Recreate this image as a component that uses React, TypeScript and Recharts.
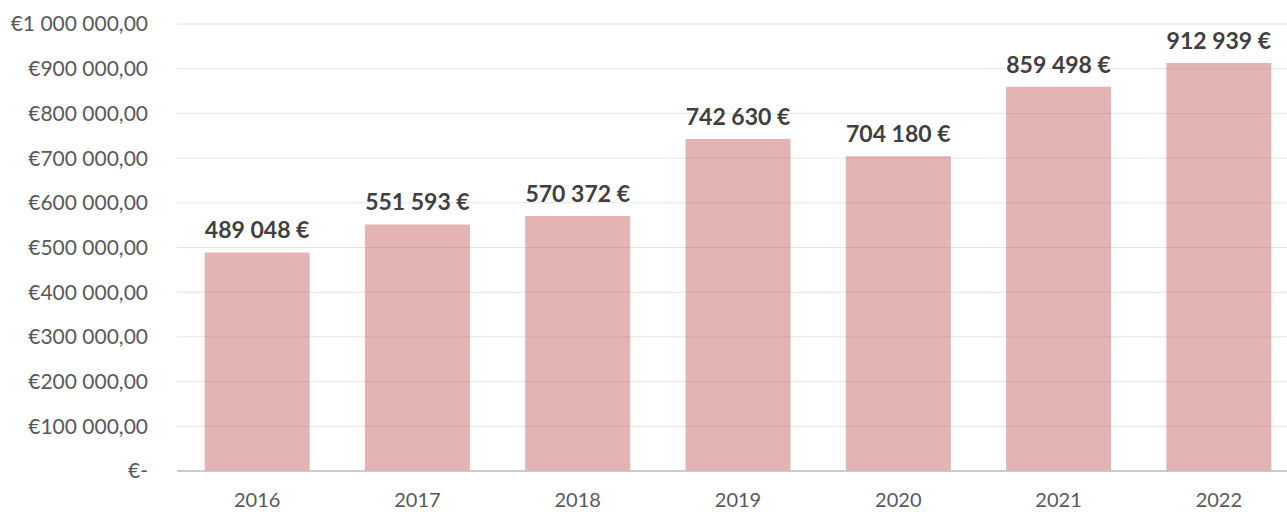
import { BarChart, Bar, XAxis, YAxis, CartesianGrid, LabelList } from 'recharts'

const YEARS = ['2016', '2017', '2018', '2019', '2020', '2021', '2022']
const REVENUE = [489048, 551593, 570372, 742630, 704180, 859498, 912939]
const Y_TICKS = [0, 100000, 200000, 300000, 400000, 500000, 600000, 700000, 800000, 900000, 1000000]

const data = YEARS.map((year, i) => ({ year, value: REVENUE[i] }))

const spaced = (n: number) => Math.round(n).toString().replace(/\B(?=(\d{3})+(?!\d))/g, ' ')

const fmtAxis = (v: number) => (v === 0 ? '€-' : `€${spaced(v)},00`)
const fmtLabel = (v: any) => `${spaced(Number(v))} €`

export default function App() {
  return (
    <div style={{ position: 'fixed', left: 0, top: 0, width: 1287, height: 512, overflow: 'hidden', background: '#fff', fontFamily: 'Lato, sans-serif' }}>
      <BarChart
        width={1300}
        height={512}
        data={data}
        margin={{ top: 24, right: 1, bottom: 0, left: 0 }}
        barCategoryGap="17.25%"
      >
        <CartesianGrid vertical={false} stroke="#e4e4e4" />
        <XAxis
          dataKey="year"
          height={41}
          tickLine={false}
          axisLine={{ stroke: '#bfbfbf', strokeWidth: 1.5 }}
          tick={{ fill: '#595959', fontSize: 20 }}
          tickMargin={16}
        />
        <YAxis
          width={177}
          domain={[0, 1000000]}
          ticks={Y_TICKS}
          tickFormatter={fmtAxis}
          tickLine={false}
          axisLine={false}
          tick={{ fill: '#595959', fontSize: 21 }}
          tickMargin={23}
          interval={0}
        />
        <Bar dataKey="value" fill="#c9696b" fillOpacity={0.5} isAnimationActive={false}>
          <LabelList
            dataKey="value"
            position="top"
            offset={14}
            formatter={fmtLabel}
            style={{ fill: '#404040', fontSize: 23, fontWeight: 700 }}
          />
        </Bar>
      </BarChart>
    </div>
  )
}
